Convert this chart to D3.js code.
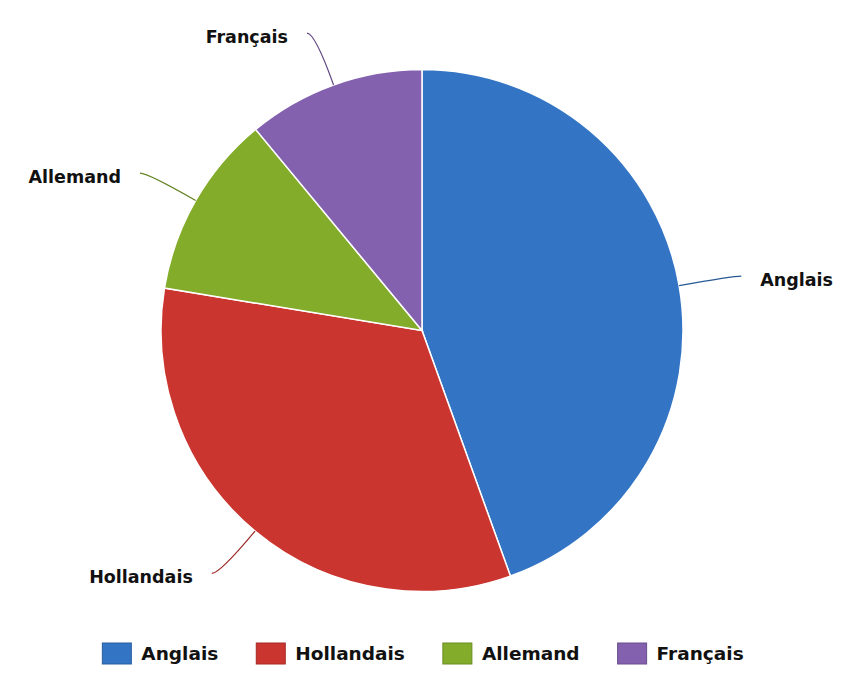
<!DOCTYPE html>
<html>
<head>
<meta charset="utf-8">
<script src="https://cdn.jsdelivr.net/npm/d3@7"></script>
<style>
  body { margin: 0; background: #fff; }
  svg { display: block; font-family: "DejaVu Sans", Verdana, sans-serif; }
  .slice-label { font-size: 17.5px; font-weight: bold; fill: #111; }
  .legend-text { font-size: 18.5px; font-weight: bold; fill: #111; }
</style>
</head>
<body>
<svg width="856" height="681"></svg>
<script>
// data (share of each slice, %)
const categories = ["Anglais", "Hollandais", "Allemand", "Français"];
const values = [44.5, 33.1, 11.4, 11.0];
const colors = ["#3375c4", "#cb3530", "#83ac2a", "#8361af"];

const width = 856, height = 681;
const cx = 422, cy = 330.5, radius = 261;

const svg = d3.select("svg");
const g = svg.append("g").attr("transform", `translate(${cx},${cy})`);

const pie = d3.pie().sort(null).value(d => d);
const arcs = pie(values);
const arc = d3.arc().innerRadius(0).outerRadius(radius);

g.selectAll("path.slice")
  .data(arcs)
  .enter().append("path")
  .attr("class", "slice")
  .attr("d", arc)
  .attr("fill", (d, i) => colors[i])
  .attr("stroke", "#fff")
  .attr("stroke-width", 1.5);

// leader lines with a small hook at the end, then the label
arcs.forEach((d, i) => {
  const mid = (d.startAngle + d.endAngle) / 2;
  const sx = Math.sin(mid), sy = -Math.cos(mid);
  const side = sx >= 0 ? 1 : -1;
  const p0 = [sx * radius, sy * radius];
  const p1 = [sx * (radius + 55), sy * (radius + 55)];
  const p2 = [p1[0] + side * 8, p1[1]];

  g.append("path")
    .attr("d", `M${p0[0]},${p0[1]} Q${p1[0]},${p1[1]} ${p2[0]},${p2[1]}`)
    .attr("fill", "none")
    .attr("stroke", d3.color(colors[i]).darker(0.8))
    .attr("stroke-width", 1.2);

  g.append("text")
    .attr("class", "slice-label")
    .attr("x", p2[0] + side * 19)
    .attr("y", p2[1] + 4)
    .attr("dy", "0.35em")
    .attr("text-anchor", side > 0 ? "start" : "end")
    .text(categories[i]);
});

// legend, centred under the pie
const legend = svg.append("g");
const swW = 29, swH = 21, gapText = 10, gapItem = 38;
let x = 0;
categories.forEach((c, i) => {
  const item = legend.append("g").attr("transform", `translate(${x},0)`);
  item.append("rect")
    .attr("x", 0).attr("y", 0)
    .attr("width", swW).attr("height", swH)
    .attr("fill", colors[i])
    .attr("stroke", d3.color(colors[i]).darker(0.6))
    .attr("stroke-width", 1);
  const t = item.append("text")
    .attr("class", "legend-text")
    .attr("x", swW + gapText)
    .attr("y", swH / 2)
    .attr("dy", "0.36em")
    .text(c);
  x += swW + gapText + t.node().getComputedTextLength() + gapItem;
});
const legendW = x - gapItem;
legend.attr("transform", `translate(${423 - legendW / 2},643)`);
</script>
</body>
</html>
